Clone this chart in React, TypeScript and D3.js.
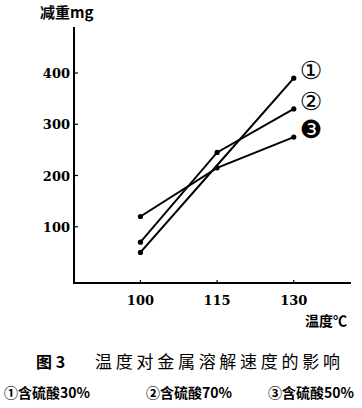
import React, { useEffect, useRef } from 'react';
import * as d3 from 'd3';

const temps = [100, 115, 130];
const series1 = [50, 220, 390]; // 含硫酸30%
const series2 = [70, 245, 330]; // 含硫酸70%
const series3 = [120, 215, 275]; // 含硫酸50%
const yTicks = [100, 200, 300, 400];
const seriesMarks = ['①', '②', '❸'];
const legendLabels = ['①含硫酸30%', '②含硫酸70%', '③含硫酸50%'];

const serif = '"DejaVu Serif", "Liberation Serif", serif';
const cjk = '"Noto Sans CJK SC", sans-serif';

const App: React.FC = () => {
  const svgRef = useRef<SVGSVGElement>(null);

  useEffect(() => {
    if (!svgRef.current) return;
    const svg = d3.select(svgRef.current);
    svg.selectAll('*').remove();

    const x = d3.scaleLinear().domain([87, 141.2]).range([74, 351]);
    const y = d3.scaleLinear().domain([0, 400]).range([278, 73]);

    // axes
    svg.append('path')
      .attr('d', `M74,27 L74,283 L351,283`)
      .attr('fill', 'none')
      .attr('stroke', '#000')
      .attr('stroke-width', 2);

    yTicks.forEach(t => {
      svg.append('line')
        .attr('x1', 74).attr('x2', 78)
        .attr('y1', y(t)).attr('y2', y(t))
        .attr('stroke', '#000').attr('stroke-width', 1.2);
      svg.append('text')
        .attr('x', 70).attr('y', y(t) + 5)
        .attr('text-anchor', 'end')
        .attr('font-family', serif)
        .attr('font-size', 13)
        .attr('font-weight', 'bold')
        .text(t);
    });

    temps.forEach(t => {
      svg.append('line')
        .attr('x1', x(t)).attr('x2', x(t))
        .attr('y1', 283).attr('y2', 280)
        .attr('stroke', '#000').attr('stroke-width', 1.2);
      svg.append('text')
        .attr('x', x(t)).attr('y', 305)
        .attr('text-anchor', 'middle')
        .attr('font-family', serif)
        .attr('font-size', 13)
        .attr('font-weight', 'bold')
        .text(t);
    });

    const line = d3.line<number>()
      .x((_, i) => x(temps[i]))
      .y(d => y(d));

    [series1, series2, series3].forEach((s, k) => {
      svg.append('path')
        .datum(s)
        .attr('d', line)
        .attr('fill', 'none')
        .attr('stroke', '#000')
        .attr('stroke-width', 2);
      // series 1 has no visible dot at 115 in the original
      svg.selectAll(null)
        .data(s.map((v, i) => ({ v, i })).filter(d => !(k === 0 && d.i === 1)))
        .enter()
        .append('circle')
        .attr('cx', d => x(temps[d.i]))
        .attr('cy', d => y(d.v))
        .attr('r', 2.6)
        .attr('fill', '#000');
      svg.append('text')
        .attr('x', x(130) + 6)
        .attr('y', y(s[2]) + 1)
        .attr('font-family', '"DejaVu Sans", sans-serif')
        .attr('font-size', 25)
        .text(seriesMarks[k]);
    });

    svg.append('text')
      .attr('x', 40).attr('y', 18)
      .attr('font-family', cjk)
      .attr('font-size', 15)
      .attr('font-weight', 'bold')
      .text('减重mg');
    svg.append('text')
      .attr('x', 347).attr('y', 326)
      .attr('text-anchor', 'end')
      .attr('font-family', cjk)
      .attr('font-size', 14)
      .attr('font-weight', 'bold')
      .text('温度℃');

    svg.append('text')
      .attr('x', 36).attr('y', 368)
      .attr('font-family', cjk)
      .attr('font-size', 16)
      .attr('font-weight', 'bold')
      .text('图 3');
    svg.append('text')
      .attr('x', 95).attr('y', 368)
      .attr('font-family', cjk)
      .attr('font-size', 17)
      .attr('textLength', 245)
      .text('温度对金属溶解速度的影响');

    const legendX = [4, 146, 268];
    legendLabels.forEach((l, i) => {
      svg.append('text')
        .attr('x', legendX[i]).attr('y', 398)
        .attr('font-family', cjk)
        .attr('font-size', 14)
        .attr('font-weight', 'bold')
        .text(l);
    });
  }, []);

  return (
    <svg
      ref={svgRef}
      width={362}
      height={408}
      viewBox="0 0 362 408"
      style={{ position: 'absolute', left: 0, top: 0, background: '#fff' }}
    />
  );
};

export default App;
